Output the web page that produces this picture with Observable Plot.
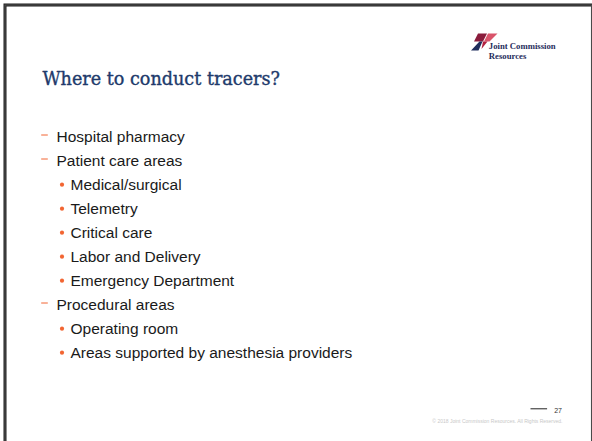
<!DOCTYPE html>
<html><head><meta charset="utf-8">
<script src="https://cdn.jsdelivr.net/npm/d3@7"></script>
<script src="https://cdn.jsdelivr.net/npm/@observablehq/plot@0.6"></script>
<style>html,body{margin:0;padding:0;background:#fff;}</style>
</head><body><div id="chart"></div>
<script>
// ---- content ----
const title = "Where to conduct tracers?";
const items = ["Hospital pharmacy", "Patient care areas", "Medical/surgical", "Telemetry", "Critical care",
  "Labor and Delivery", "Emergency Department", "Procedural areas", "Operating room",
  "Areas supported by anesthesia providers"];
const levels = [1, 1, 2, 2, 2, 2, 2, 1, 2, 2];
const logoLines = ["Joint Commission", "Resources"];
const pageNumber = ["27"];
const copyright = ["© 2018 Joint Commission Resources. All Rights Reserved."];
// logo flag pieces (shape outlines, px)
const logoShapes = [
  {color: "#8a1c3c", pts: [[477.5,33],[486.5,33],[482.5,41],[473.5,41]]},
  {color: "#d9546a", pts: [[487.5,33],[497,33],[489,41],[483.5,41]]},
  {color: "#1f2d5c", pts: [[470.5,50],[479,41],[482,41],[478,50]]},
  {color: "#b3213f", pts: [[482.5,41],[487,41],[481,48.5]]}
];

const rows = items.map((label, i) => ({label, level: levels[i]}));
const orange = "#f26532";
const ink = "#1a1a1a";
const navy = "#213a6b";

const dash = r => ({draw(ctx) { ctx.moveTo(-r, 0); ctx.lineTo(r, 0); }});
const poly = pts => ({draw(ctx) { pts.forEach(([x, y], i) => i ? ctx.lineTo(x, y) : ctx.moveTo(x, y)); ctx.closePath(); }});

const chart = Plot.plot({
  width: 592, height: 441,
  margin: 0,
  style: {background: "#fff", overflow: "visible"},
  x: {type: "point", domain: [1, 2], range: [56, 70], padding: 0, axis: null},
  y: {type: "point", domain: items, range: [134.2, 356.2], padding: 0, axis: null},
  marks: [
    // slide frame
    Plot.frame({stroke: "#1c1c1c", strokeWidth: 3, insetTop: 4.5, insetLeft: 4.5, insetRight: -20, insetBottom: -20}),
    Plot.frame({stroke: "#4a4a4a", strokeWidth: 1.3, insetTop: 4.5, insetLeft: 4.5, insetRight: 0.9, insetBottom: -20}),
    // title
    Plot.text([title], {frameAnchor: "top-left", dx: 42, dy: 72.3, text: d => d, textAnchor: "start",
      fontFamily: "DejaVu Serif", fontSize: 17.6, fill: navy, stroke: navy, strokeWidth: 0.35}),
    // bullet markers
    Plot.dot(rows.filter(d => d.level === 1), {x: "level", y: "label", dx: -12, dy: -2.5,
      symbol: dash(3.3), fill: "none", stroke: orange, strokeWidth: 1}),
    Plot.dot(rows.filter(d => d.level === 2), {x: "level", y: "label", dx: -8.5, dy: -0.8,
      r: 2.1, fill: orange, stroke: "none"}),
    // bullet text
    Plot.text(rows, {x: "level", y: "label", text: "label", textAnchor: "start",
      fontFamily: "Liberation Sans, Arial, sans-serif", fontSize: 15.5, fill: ink}),
    // logo
    ...logoShapes.map(s => Plot.dot([s], {frameAnchor: "top-left", symbol: poly(s.pts), fill: s.color, stroke: "none"})),
    Plot.text([logoLines.join("\n")], {frameAnchor: "top-left", dx: 488.3, dy: 42.3, text: d => d,
      textAnchor: "start", lineAnchor: "top", lineHeight: 1.06,
      fontFamily: "Liberation Serif", fontWeight: "bold", fontSize: 8.7, fill: "#1f2d5c"}),
    // footer
    Plot.dot([0], {frameAnchor: "top-left", dx: 538.3, dy: 408.3, symbol: dash(8.3), fill: "none", stroke: "#222", strokeWidth: 1}),
    Plot.text(pageNumber, {frameAnchor: "top-left", dx: 561.5, dy: 407.8, text: d => d, textAnchor: "end",
      fontFamily: "Liberation Sans", fontSize: 7, fill: "#333"}),
    Plot.text(copyright, {frameAnchor: "top-left", dx: 562, dy: 419.2, text: d => d, textAnchor: "end",
      fontFamily: "Liberation Sans", fontSize: 5, fill: "#c8c8c8"})
  ]
});
document.getElementById("chart").appendChild(chart);
</script>
</body></html>
